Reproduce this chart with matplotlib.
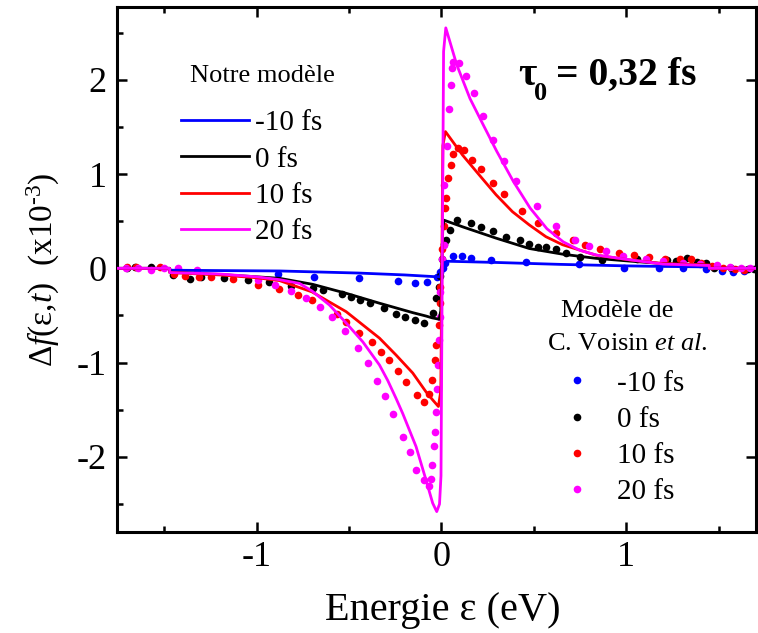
import numpy as np
import matplotlib
matplotlib.use("Agg")
import matplotlib.pyplot as plt
from matplotlib.ticker import MultipleLocator

plt.rcParams['font.family'] = ['Liberation Serif', 'DejaVu Serif']
plt.rcParams['mathtext.fontset'] = 'custom'
plt.rcParams['mathtext.rm'] = 'Liberation Serif'
plt.rcParams['mathtext.it'] = 'Liberation Serif:italic'
plt.rcParams['mathtext.bf'] = 'Liberation Serif:bold'
plt.rcParams['axes.unicode_minus'] = False

delays = ['-10 fs', '0 fs', '10 fs', '20 fs']
colors = ['#0000ff', '#000000', '#ff0000', '#ff00ff']

# --- Notre modele (solid lines) ---
blue_line_x = [-1.758, -1.47, -1.47, -1.2, -0.876, -0.45, -0.2, -0.03, -0.008, 0.005, 0.034,
               0.3, 0.64, 1.0, 1.2, 1.45, 1.45, 1.70]
blue_line_y = [0, 0, -0.02, -0.024, -0.028, -0.05, -0.07, -0.089, -0.09, 0.05, 0.075,
               0.062, 0.042, 0.026, 0.02, 0.015, 0, 0]

black_line_x = [-1.758, -1.47, -1.47, -1.2, -1.0, -0.876, -0.696, -0.515, -0.335, -0.155, -0.083,
                -0.05, -0.012, -0.003, 0.008, 0.015, 0.115, 0.296, 0.476, 0.656, 0.836, 1.016,
                1.2, 1.45, 1.45, 1.70]
black_line_y = [0, 0, -0.04, -0.065, -0.09, -0.106, -0.17, -0.265, -0.37, -0.47, -0.506,
                -0.525, -0.54, -0.45, 0.45, 0.51, 0.44, 0.32, 0.21, 0.15, 0.106, 0.077,
                0.05, 0.035, 0, 0]

red_line_x = [-1.758, -1.47, -1.47, -1.2, -1.0, -0.876, -0.7, -0.515, -0.425, -0.335, -0.245,
              -0.155, -0.083, -0.045, -0.016, -0.003, 0.008, 0.022, 0.115, 0.205, 0.296, 0.385,
              0.476, 0.566, 0.656, 0.836, 1.016, 1.2, 1.45, 1.45, 1.70]
red_line_y = [0, 0, -0.045, -0.07, -0.10, -0.13, -0.25, -0.46, -0.60, -0.74, -0.92,
              -1.11, -1.31, -1.40, -1.465, -1.3, 1.3, 1.45, 1.20, 0.99, 0.78, 0.60,
              0.46, 0.335, 0.25, 0.14, 0.09, 0.05, 0.035, 0, 0]

magenta_line_x = [-1.758, -1.47, -1.47, -1.2, -1.0, -0.876, -0.768, -0.7, -0.605, -0.515, -0.425,
                  -0.335, -0.29, -0.245, -0.209, -0.137, -0.083, -0.047, -0.025, -0.01, -0.002,
                  0.012, 0.024, 0.083, 0.155, 0.227, 0.30, 0.39, 0.48, 0.571, 0.66, 0.751,
                  0.841, 1.022, 1.2, 1.45, 1.45, 1.70]
magenta_line_y = [0, 0, -0.045, -0.06, -0.09, -0.12, -0.16, -0.24, -0.39, -0.58, -0.78,
                  -1.025, -1.19, -1.38, -1.54, -1.89, -2.245, -2.49, -2.58, -2.5, -2.2,
                  2.3, 2.55, 2.16, 1.80, 1.52, 1.24, 0.92, 0.64, 0.42, 0.28, 0.19,
                  0.14, 0.09, 0.045, 0.03, 0, 0]

# --- Modele de C. Voisin et al. (dots) ---
blue_dot_x = [-0.885, -0.69, -0.445, -0.233, -0.142, -0.076, -0.022, -0.005, 0.008, 0.02,
              0.063, 0.11, 0.159, 0.27, 0.456, 0.744, 0.99, 1.18, 1.31, 1.43, 1.52, 1.58, 1.64]
blue_dot_y = [-0.065, -0.09, -0.098, -0.135, -0.158, -0.142, -0.089, -0.04, 0.0, 0.06,
              0.134, 0.134, 0.112, 0.088, 0.07, 0.042, 0.005, 0.0, 0.0, -0.01, -0.03, -0.04, -0.03]

black_dot_x = [-1.70, -1.66, -1.57, -1.45, -1.36, -1.30, -1.175, -1.045, -0.935, -0.813,
               -0.696, -0.64, -0.54, -0.49, -0.44, -0.385, -0.31, -0.245, -0.195, -0.14,
               -0.095, -0.046, -0.03, -0.012, -0.005, 0.006, 0.014, 0.025, 0.048, 0.083,
               0.159, 0.216, 0.278, 0.352, 0.424, 0.476, 0.525, 0.565, 0.621, 0.676, 0.749,
               0.872, 1.061, 1.22, 1.269, 1.33, 1.386, 1.431, 1.473, 1.567, 1.657, 1.69]
black_dot_y = [0.0, 0.01, 0.015, -0.07, -0.11, -0.095, -0.106, -0.12, -0.15, -0.188,
               -0.212, -0.23, -0.276, -0.30, -0.333, -0.371, -0.424, -0.483, -0.52, -0.55,
               -0.577, -0.47, -0.32, -0.2, -0.08, 0.1, 0.254, 0.30, 0.406, 0.512,
               0.484, 0.441, 0.396, 0.335, 0.30, 0.254, 0.229, 0.229, 0.20, 0.165, 0.117,
               0.088, 0.099, 0.088, 0.077, 0.106, 0.07, 0.053, 0.0, 0.0, -0.01, -0.01]

red_dot_x = [-1.70, -1.65, -1.525, -1.447, -1.39, -1.313, -1.245, -1.128, -0.992, -0.88,
             -0.777, -0.70, -0.567, -0.517, -0.443, -0.378, -0.328, -0.284, -0.236, -0.194,
             -0.13, -0.094, -0.068, -0.052, -0.034, -0.028, -0.013, -0.01, -0.006, 0.006,
             0.016, 0.02, 0.027, 0.038, 0.052, 0.064, 0.088, 0.122, 0.168, 0.216, 0.28,
             0.341, 0.435, 0.525, 0.621, 0.71, 0.78, 0.858, 0.962, 1.04, 1.124, 1.209,
             1.292, 1.353, 1.404, 1.467, 1.526, 1.588, 1.638]
red_dot_y = [0.01, 0.01, 0.01, -0.06, -0.082, -0.089, -0.095, -0.117, -0.18, -0.223,
             -0.285, -0.34, -0.48, -0.566, -0.684, -0.78, -0.888, -0.972, -1.089, -1.205,
             -1.34, -1.415, -1.33, -1.185, -0.972, -0.813, -0.6, -0.37, -0.2, 0.2,
             0.45, 0.636, 0.75, 0.954, 1.10, 1.21, 1.28, 1.26, 1.15, 1.05, 0.905,
             0.788, 0.611, 0.484, 0.371, 0.303, 0.25, 0.201, 0.166, 0.141, 0.123, 0.095,
             0.095, 0.095, 0.06, 0.025, 0.0, -0.01, -0.018]

magenta_dot_x = [-1.705, -1.64, -1.57, -1.50, -1.425, -1.325, -0.99, -0.90, -0.815, -0.735,
                 -0.659, -0.59, -0.522, -0.45, -0.396, -0.348, -0.305, -0.26, -0.21, -0.172,
                 -0.138, -0.094, -0.066, -0.055, -0.048, -0.04, -0.033, -0.027, -0.022,
                 -0.017, -0.013, -0.009, -0.005, 0.006, 0.012, 0.016, 0.03, 0.044, 0.05,
                 0.057, 0.065, 0.097, 0.135, 0.178, 0.228, 0.28, 0.337, 0.402, 0.518, 0.621,
                 0.721, 0.798, 0.892, 0.982, 1.11, 1.20, 1.308, 1.40, 1.494, 1.56, 1.62, 1.67]
magenta_dot_y = [0.0, 0.0, -0.018, 0.0, 0.0, -0.02, -0.124, -0.18, -0.24, -0.31,
                 -0.41, -0.513, -0.668, -0.84, -1.0, -1.2, -1.355, -1.545, -1.79, -1.953,
                 -2.135, -2.245, -2.309, -2.23, -2.09, -1.884, -1.733, -1.525, -1.28,
                 -1.025, -0.76, -0.513, -0.25, 0.1, 0.25, 0.88, 1.3, 1.69, 1.94,
                 2.12, 2.19, 2.175, 2.04, 1.86, 1.613, 1.364, 1.14, 0.928, 0.66, 0.45,
                 0.296, 0.232, 0.187, 0.13, 0.097, 0.076, 0.053, 0.045, 0.035, 0.01, 0.008, 0.005]

line_xs = [blue_line_x, black_line_x, red_line_x, magenta_line_x]
line_ys = [blue_line_y, black_line_y, red_line_y, magenta_line_y]
dot_xs = [blue_dot_x, black_dot_x, red_dot_x, magenta_dot_x]
dot_ys = [blue_dot_y, black_dot_y, red_dot_y, magenta_dot_y]

W, H = 758, 633
fig = plt.figure(figsize=(W / 100, H / 100), dpi=100)
ax = fig.add_axes([116.5 / W, 1 - 531.7 / H, 639 / W, 524.4 / H])

dot_handles = []
for x, y, c, lab in zip(dot_xs, dot_ys, colors, delays):
    h, = ax.plot(x, y, 'o', color=c, ms=5.5, mew=0, linestyle='none', label=lab, zorder=2)
    dot_handles.append(h)

line_handles = []
for x, y, c, lab in zip(line_xs, line_ys, colors, delays):
    h, = ax.plot(x, y, '-', color=c, lw=2.0, label=lab, zorder=3)
    line_handles.append(h)

ax.set_xlim(-1.758, 1.70)
ax.set_ylim(-2.793, 2.768)
ax.xaxis.set_major_locator(MultipleLocator(1))
ax.xaxis.set_minor_locator(MultipleLocator(0.5))
ax.yaxis.set_major_locator(MultipleLocator(1))
ax.yaxis.set_minor_locator(MultipleLocator(0.5))

for s in ax.spines.values():
    s.set_linewidth(2.2)
ax.tick_params(which='both', direction='in', top=True, right=True, width=1.8, labelsize=26, pad=7)
ax.tick_params(which='major', length=7)
ax.tick_params(which='minor', length=4.5)
ax.tick_params(which='minor', axis='y', right=False)

ax.set_xlabel('Energie ε (eV)', fontsize=29)
ax.xaxis.set_label_coords(0.51, -0.115)
ax.set_ylabel('Δ$f$(ε,$t$)  (x10$^{\u20103}$)', fontsize=24)
ax.yaxis.set_label_coords(-0.085, 0.5)

leg1 = ax.legend(handles=line_handles, loc='upper left', bbox_to_anchor=(0.101, 0.804),
                 frameon=False, fontsize=21, borderpad=0, borderaxespad=0,
                 handlelength=2.33, handletextpad=0.2, labelspacing=0.335)
ax.add_artist(leg1)
ax.legend(handles=dot_handles, loc='upper left', bbox_to_anchor=(0.675, 0.308),
          frameon=False, fontsize=21, borderpad=0, borderaxespad=0, numpoints=1,
          handlelength=2.0, handletextpad=0.37, labelspacing=0.335)

ax.text(0.228, 0.858, 'Notre modèle', transform=ax.transAxes, fontsize=19,
        ha='center', va='baseline')
ax.text(0.7833, 0.41, 'Modèle de', transform=ax.transAxes, fontsize=19,
        ha='center', va='baseline')
ax.text(0.799, 0.3465, 'C. Voisin $\\mathit{et\\ al}$.', transform=ax.transAxes, fontsize=19,
        ha='center', va='baseline')
# tau_0 annotation, subscript placed by hand to sit low like the original
ax.text(0.6283, 0.8518, 'τ', transform=ax.transAxes, fontsize=28.5,
        fontweight='bold', ha='left', va='baseline')
ax.text(0.6534, 0.8232, '0', transform=ax.transAxes, fontsize=19,
        fontweight='bold', ha='left', va='baseline')
ax.text(0.6873, 0.8518, '= 0,32 fs', transform=ax.transAxes, fontsize=28.5,
        fontweight='bold', ha='left', va='baseline')

fig.savefig('out.png', dpi=100)
